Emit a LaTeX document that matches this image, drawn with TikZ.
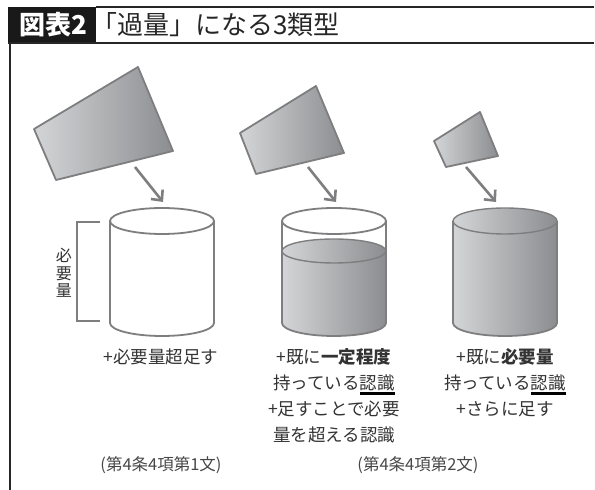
\documentclass[tikz,border=0pt]{standalone}
\usepackage{fontspec}
\setmainfont{Noto Sans CJK JP}
\usetikzlibrary{arrows.meta}
\definecolor{ink}{HTML}{333333}
\definecolor{rimgray}{HTML}{7E7E80}
\definecolor{fillL}{HTML}{D4D5D7}
\definecolor{fillR}{HTML}{8C8D90}
\newcommand{\undl}[1]{\setbox0\hbox{#1}\rlap{\color{black}\vrule height -3pt depth 5.4pt width \wd0}\box0}

\begin{document}
\begin{tikzpicture}[
    x=1pt, y=1pt,
    rim/.style={draw=rimgray, line width=1.8pt, line join=round},
    metal/.style={left color=fillL, right color=fillR},
    pour/.style={draw=rimgray, line width=2.6pt, -{Straight Barb[length=8pt,width=15pt]}},
    lbl/.style={text=ink, font=\fontsize{17.5}{26}\selectfont, align=center, inner sep=0pt},
    note/.style={text=ink!90, font=\fontsize{16.5}{18}\selectfont, inner sep=0pt}
  ]
    \useasboundingbox (0,0) rectangle (595,490);

    % header bar
    \fill[black!90] (8,447) rectangle (96,483);
    \draw[black!85, line width=2pt] (96,483) -- (594,483);
    \draw[black!85, line width=1.5pt] (8,447) -- (594,447);
    \draw[black!85, line width=1.5pt] (10,447) -- (10,0);
    \node[text=white, font=\fontsize{26}{28}\selectfont\bfseries, inner sep=0pt] (fig) at (53,465) {図表2};
    \node[text=black!85, font=\fontsize{26}{30}\selectfont, anchor=west, inner sep=0pt] (title) at (91,465) {「過量」になる3類型};

    % pourers
    \draw[rim, metal] (34,361) -- (138,423) -- (173,339) -- (56,310) -- cycle;
    \draw[rim, metal] (240,357) -- (316,404) -- (344,337) -- (256,316) -- cycle;
    \draw[rim, metal] (434,349) -- (480,378) -- (498,334) -- (446,323) -- cycle;
    \coordinate (pour1) at (135,323);
    \coordinate (pour2) at (308,323);
    \coordinate (pour3) at (466,323);

    % cup 1: empty
    \draw[rim, fill=white] (110,269) -- (110,167) arc[start angle=180, end angle=360, x radius=52, y radius=13] -- (214,269);
    \draw[rim, fill=white] (162,269) ellipse[x radius=52, y radius=13];
    \coordinate (cup1) at (163,288);

    % cup 2: partly filled
    \fill[white] (282,269) -- (282,167) arc[start angle=180, end angle=360, x radius=52, y radius=13] -- (386,269) -- cycle;
    \shade[metal] (282,239) -- (282,167) arc[start angle=180, end angle=360, x radius=52, y radius=13] -- (386,239) -- cycle;
    \draw[rim, metal, line width=1.4pt] (334,239) ellipse[x radius=52, y radius=12];
    \draw[rim] (282,269) -- (282,167) arc[start angle=180, end angle=360, x radius=52, y radius=13] -- (386,269);
    \draw[rim, fill=white] (334,269) ellipse[x radius=52, y radius=13];
    \coordinate (cup2) at (336,288);

    % cup 3: full
    \draw[rim, metal] (453,269) -- (453,167) arc[start angle=180, end angle=360, x radius=52, y radius=13] -- (557,269);
    \draw[rim, metal, line width=1.4pt] (505,269) ellipse[x radius=52, y radius=13];
    \coordinate (cup3) at (496,288);

    \draw[pour] (pour1) -- (cup1);
    \draw[pour] (pour2) -- (cup2);
    \draw[pour] (pour3) -- (cup3);

    % bracket for the required amount
    \draw[rimgray, line width=1.2pt] (100,268) -- (77,268) -- (77,169) -- (100,169);
    \node[text=ink, font=\fontsize{16}{17.5}\selectfont, align=center, inner sep=0pt] (need) at (64,217) {必\\要\\量};

    % captions
    \node[lbl] (cap1) at (161,133) {+必要量超足す};
    \node[lbl, anchor=north] (cap2) at (334,142) {+既に\textbf{一定程度}\\持っている\undl{認識}\\+足すことで必要\\量を超える認識};
    \node[lbl, anchor=north] (cap3) at (505,142) {+既に\textbf{必要量}\\持っている\undl{認識}\\+さらに足す};

    \node[note] (art1) at (161,25) {(第4条4項第1文)};
    \node[note] (art2) at (418,25) {(第4条4項第2文)};
  \end{tikzpicture}
\end{document}
